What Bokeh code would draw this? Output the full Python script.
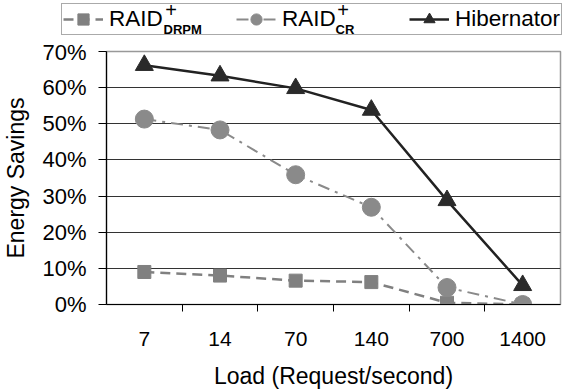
from bokeh.plotting import figure
from bokeh.models import (FactorRange, Range1d, FixedTicker, PrintfTickFormatter,
                          Legend, LegendItem, Label, CategoricalAxis)
from bokeh.embed import file_html
from bokeh.resources import INLINE

# ---- data ----
loads = ["7", "14", "70", "140", "700", "1400"]
raid_drpm = [9.0, 8.0, 6.6, 6.2, 0.5, 0.0]
raid_cr = [51.3, 48.3, 35.9, 26.9, 4.7, 0.0]
hibernator = [66.2, 63.3, 59.8, 53.8, 28.8, 5.3]
y_ticks = [0, 10, 20, 30, 40, 50, 60, 70]
series_names = ["RAID", "RAID", "Hibernator"]
series_subs = ["DRPM", "CR", ""]

FONT = "Liberation Sans"

STY = [dict(line_color="#808080", line_width=2.5, line_dash="10 6"),
       dict(line_color="#8a8a8a", line_width=2, line_dash="12 6 3 6"),
       dict(line_color="#222222", line_width=2.5, line_dash="solid")]
MK = [dict(marker="square", size=13, fill_color="#808080", line_color="#808080"),
      dict(marker="circle", size=18, fill_color="#8a8a8a", line_color="#8a8a8a"),
      dict(marker="triangle", size=18, fill_color="#2a2a2a", line_color="#2a2a2a")]

# ---------------- legend strip (top 39 px) ----------------
LH = 39
lf = figure(width=563, height=LH, output_backend="svg", toolbar_location=None,
            x_range=Range1d(0, 563), y_range=Range1d(0, LH),
            x_axis_type=None, y_axis_type=None, min_border=0)
lf.outline_line_color = None
lf.grid.visible = False
lf.background_fill_color = "white"
lf.border_fill_color = "white"

nan = float("nan")
items = []
for name, st, mk in zip(series_names, STY, MK):
    r1 = lf.line(x=[nan], y=[nan], **st)
    r2 = lf.scatter(x=[nan], y=[nan], **mk)
    items.append(LegendItem(label=name, renderers=[r1, r2]))

legend = Legend(items=items, orientation="horizontal", location=(61, 4),
                glyph_width=40, glyph_height=28, label_standoff=6,
                label_width=101, label_height=20, spacing=26, padding=1, margin=0,
                label_text_font=FONT, label_text_font_size="22.5px", label_text_color="black",
                border_line_color="#555555", border_line_width=1.5,
                background_fill_alpha=0.0)
lf.add_layout(legend, "center")

# superscript "+" and subscripts of the RAID labels (screen px from the strip's bottom-left)
for xx, sub in [(163, series_subs[0]), (335, series_subs[1])]:
    lf.add_layout(Label(x=xx + 7.5, y=LH - 9, x_units="screen", y_units="screen",
                        text="+", level="overlay",
                        text_font=FONT, text_font_size="20px", text_align="center",
                        text_baseline="middle", text_color="black"))
    lf.add_layout(Label(x=xx, y=LH - 28.5, x_units="screen", y_units="screen",
                        text=sub, level="overlay",
                        text_font=FONT, text_font_size="13px", text_font_style="bold",
                        text_align="left", text_baseline="alphabetic", text_color="black"))

# ---------------- main chart ----------------
p = figure(width=563, height=392 - LH, output_backend="svg", toolbar_location=None,
           x_range=FactorRange(factors=loads), y_range=Range1d(0, 70),
           x_axis_type=None, min_border_left=105, min_border_right=3,
           min_border_top=12, min_border_bottom=88)
p.background_fill_color = "white"
p.border_fill_color = "white"
p.outline_line_color = "#999999"
p.outline_line_width = 1.5

ya = p.yaxis[0]
ya.ticker = FixedTicker(ticks=y_ticks)
ya.formatter = PrintfTickFormatter(format="%d%%")
ya.axis_label = "Energy Savings"
ya.axis_label_text_font = FONT
ya.axis_label_text_font_style = "normal"
ya.axis_label_text_font_size = "23px"
ya.axis_label_text_color = "black"
ya.axis_label_standoff = 10
ya.major_label_text_font = FONT
ya.major_label_text_font_size = "22px"
ya.major_label_text_color = "black"
ya.major_label_standoff = 12
ya.major_tick_out = 8
ya.major_tick_in = 0
ya.minor_tick_out = 0
ya.minor_tick_in = 0
ya.axis_line_color = "black"
ya.axis_line_width = 1.2
ya.major_tick_line_color = "black"

p.ygrid.ticker = FixedTicker(ticks=y_ticks)
p.ygrid.grid_line_color = "#333333"
p.ygrid.grid_line_width = 1.1
p.xgrid.visible = False

# tick marks at category boundaries (boundary factors, shifted half a category)
bounds = ["b%d" % i for i in range(len(loads) + 1)]
p.extra_x_ranges = {"bounds": FactorRange(factors=bounds, range_padding=-0.5,
                                          range_padding_units="absolute")}
tick_axis = CategoricalAxis(x_range_name="bounds",
                            major_label_text_font_size="1px", major_label_text_alpha=0,
                            major_label_standoff=0, major_tick_out=7, major_tick_in=0,
                            axis_line_color="black", axis_line_width=1.2,
                            major_tick_line_color="black")
p.add_layout(tick_axis, "below")

cat_axis = CategoricalAxis(axis_line_alpha=0, major_tick_out=0, major_tick_in=0,
                           major_label_text_font=FONT, major_label_text_font_size="21px",
                           major_label_text_color="black", major_label_standoff=20,
                           axis_label="Load (Request/second)", axis_label_text_font=FONT,
                           axis_label_text_font_style="normal", axis_label_text_font_size="23px",
                           axis_label_text_color="black", axis_label_standoff=14)
p.add_layout(cat_axis, "below")

for vals, st, mk in zip([raid_drpm, raid_cr, hibernator], STY, MK):
    p.line(loads, vals, **st)
    p.scatter(loads, vals, **mk)

open("out.html", "w").write(file_html((lf, p), INLINE))
